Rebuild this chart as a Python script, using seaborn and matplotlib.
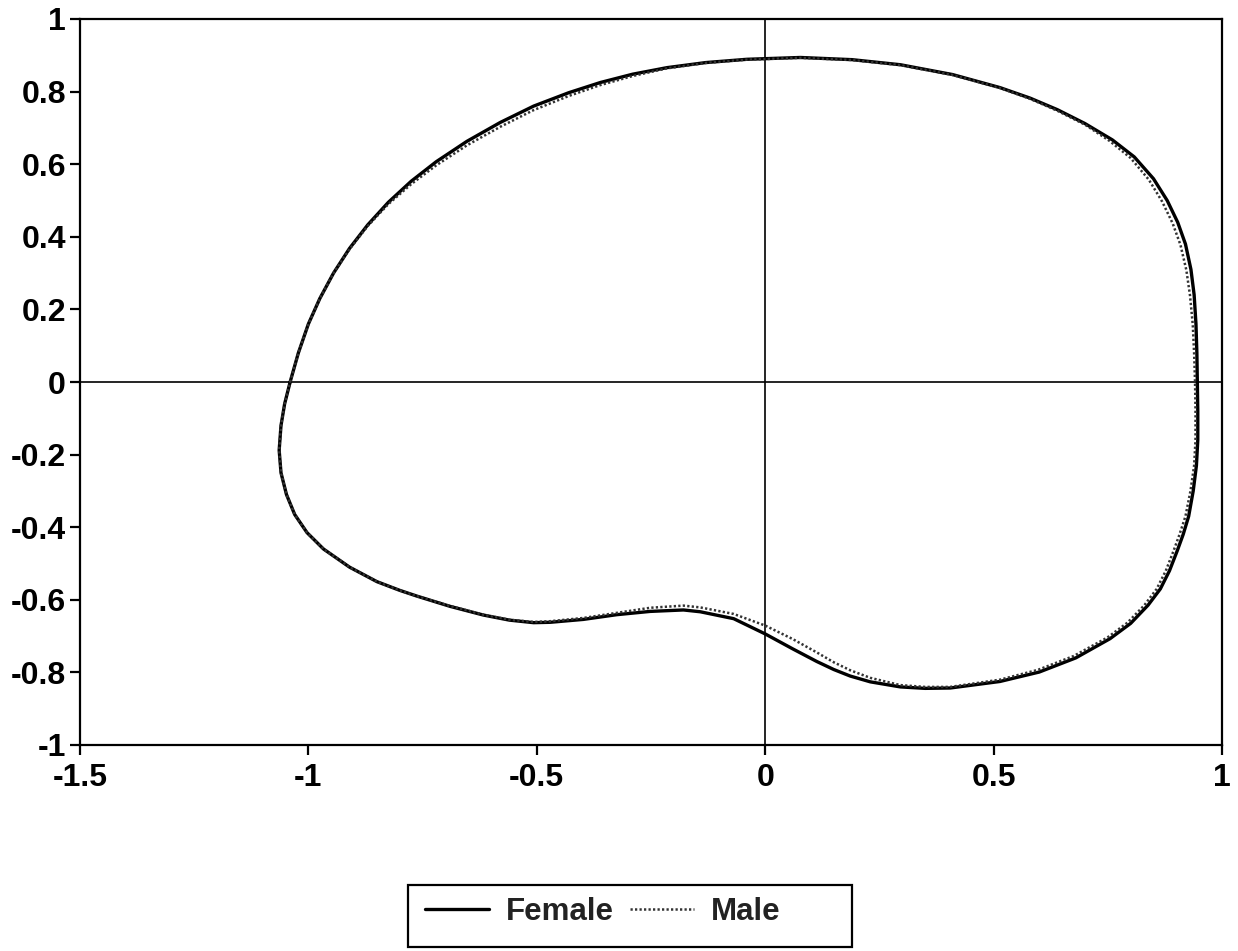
import numpy as np
import pandas as pd
import matplotlib
matplotlib.use("Agg")
import matplotlib.pyplot as plt
from matplotlib.patches import Rectangle
import seaborn as sns

# ---- data ----
female_x = [-1.040, -1.022, -1.000, -0.975, -0.945, -0.910, -0.870, -0.825, -0.775, -0.720,
            -0.653, -0.580, -0.507, -0.430, -0.361, -0.290, -0.215, -0.130, -0.040, 0.077,
            0.190, 0.296, 0.410, 0.514, 0.580, 0.640, 0.700, 0.760, 0.808, 0.850,
            0.880, 0.903, 0.920, 0.932, 0.939, 0.943, 0.945, 0.946, 0.947, 0.947,
            0.944, 0.937, 0.927, 0.915, 0.902, 0.885, 0.865, 0.838, 0.800, 0.755,
            0.680, 0.600, 0.514, 0.405, 0.350, 0.296, 0.230, 0.186, 0.150, 0.113,
            0.060, 0.000, -0.069, -0.142, -0.179, -0.252, -0.325, -0.398, -0.471, -0.507,
            -0.560, -0.617, -0.690, -0.762, -0.800, -0.850, -0.910, -0.967, -1.003, -1.030,
            -1.048, -1.060, -1.064, -1.060, -1.052, -1.040]
female_y = [0.000, 0.080, 0.160, 0.230, 0.300, 0.368, 0.433, 0.495, 0.553, 0.607,
            0.663, 0.715, 0.760, 0.797, 0.825, 0.848, 0.866, 0.880, 0.889, 0.894,
            0.888, 0.874, 0.847, 0.811, 0.782, 0.750, 0.712, 0.667, 0.620, 0.560,
            0.500, 0.440, 0.380, 0.310, 0.240, 0.160, 0.080, 0.000, -0.080, -0.160,
            -0.230, -0.300, -0.370, -0.420, -0.465, -0.520, -0.570, -0.615, -0.665, -0.707,
            -0.760, -0.799, -0.825, -0.843, -0.844, -0.840, -0.826, -0.810, -0.792, -0.770,
            -0.735, -0.694, -0.652, -0.633, -0.628, -0.632, -0.641, -0.654, -0.662, -0.663,
            -0.656, -0.642, -0.618, -0.590, -0.574, -0.550, -0.510, -0.460, -0.415, -0.365,
            -0.310, -0.250, -0.188, -0.120, -0.060, 0.000]

male_x = [-1.040, -1.022, -1.000, -0.975, -0.945, -0.910, -0.870, -0.825, -0.775, -0.720,
          -0.653, -0.580, -0.507, -0.430, -0.361, -0.290, -0.215, -0.130, -0.040, 0.077,
          0.190, 0.296, 0.410, 0.514, 0.580, 0.640, 0.700, 0.754, 0.800, 0.840,
          0.869, 0.892, 0.909, 0.922, 0.930, 0.936, 0.939, 0.941, 0.942, 0.942,
          0.939, 0.931, 0.920, 0.907, 0.894, 0.877, 0.857, 0.830, 0.793, 0.749,
          0.675, 0.597, 0.514, 0.405, 0.350, 0.296, 0.230, 0.186, 0.150, 0.113,
          0.060, 0.000, -0.069, -0.142, -0.179, -0.252, -0.325, -0.398, -0.471, -0.507,
          -0.560, -0.617, -0.690, -0.762, -0.800, -0.850, -0.910, -0.967, -1.003, -1.030,
          -1.048, -1.060, -1.064, -1.060, -1.052, -1.040]
male_y = [0.000, 0.080, 0.160, 0.230, 0.300, 0.366, 0.430, 0.490, 0.545, 0.597,
          0.652, 0.703, 0.749, 0.788, 0.818, 0.843, 0.864, 0.879, 0.888, 0.893,
          0.887, 0.873, 0.846, 0.810, 0.780, 0.747, 0.709, 0.664, 0.617, 0.557,
          0.497, 0.437, 0.378, 0.308, 0.238, 0.158, 0.078, 0.000, -0.080, -0.160,
          -0.230, -0.300, -0.370, -0.420, -0.465, -0.520, -0.570, -0.615, -0.663, -0.704,
          -0.755, -0.793, -0.820, -0.840, -0.840, -0.835, -0.815, -0.794, -0.772, -0.745,
          -0.708, -0.671, -0.639, -0.621, -0.616, -0.622, -0.636, -0.650, -0.659, -0.661,
          -0.655, -0.641, -0.617, -0.590, -0.574, -0.550, -0.510, -0.460, -0.415, -0.365,
          -0.310, -0.250, -0.188, -0.120, -0.060, 0.000]

series_names = ["Female", "Male"]
x_ticks = [-1.5, -1, -0.5, 0, 0.5, 1]
x_tick_labels = ["-1.5", "-1", "-0.5", "0", "0.5", "1"]
y_ticks = [-1, -0.8, -0.6, -0.4, -0.2, 0, 0.2, 0.4, 0.6, 0.8, 1]
y_tick_labels = ["-1", "-0.8", "-0.6", "-0.4", "-0.2", "0", "0.2", "0.4", "0.6", "0.8", "1"]

# ---- style ----
sns.set_style("ticks")
plt.rcParams["font.family"] = ["Liberation Sans", "DejaVu Sans"]
plt.rcParams["font.weight"] = "bold"
plt.rcParams["axes.unicode_minus"] = False

W, H = 1238, 951
fig = plt.figure(figsize=(W / 100, H / 100), dpi=100)
ax = fig.add_axes([80 / W, 1 - 745 / H, (1222 - 80) / W, (745 - 19) / H])

df_f = pd.DataFrame({"x": female_x, "y": female_y})
df_m = pd.DataFrame({"x": male_x, "y": male_y})

# axis cross lines
ax.axhline(0, color="black", lw=1.2, zorder=1)
ax.axvline(0, color="black", lw=1.2, zorder=1)

sns.lineplot(data=df_f, x="x", y="y", sort=False, estimator=None, ax=ax,
             color="black", lw=2.4, label=series_names[0], zorder=3,
             solid_joinstyle="round")
sns.lineplot(data=df_m, x="x", y="y", sort=False, estimator=None, ax=ax,
             color="#333333", lw=1.8, linestyle=(0, (0.9, 0.9)),
             label=series_names[1], zorder=4)

ax.set_xlim(-1.5, 1)
ax.set_ylim(-1, 1)
ax.set_xticks(x_ticks)
ax.set_xticklabels(x_tick_labels)
ax.set_yticks(y_ticks)
ax.set_yticklabels(y_tick_labels)
ax.set_xlabel("")
ax.set_ylabel("")

for s in ax.spines.values():
    s.set_linewidth(1.6)
    s.set_color("black")
ax.tick_params(axis="both", direction="out", length=7, width=1.6, labelsize=23,
               colors="black")
ax.tick_params(axis="y", pad=3)
ax.tick_params(axis="x", pad=6)
for lab in ax.get_xticklabels() + ax.get_yticklabels():
    lab.set_fontweight("bold")

handles, labels = ax.get_legend_handles_labels()
ax.get_legend().remove()
leg = fig.legend(handles, labels, loc="center left",
                 bbox_to_anchor=(403 / W, 1 - 912 / H), ncol=2,
                 frameon=False, prop={"weight": "bold", "size": 22.5},
                 handlelength=2.05, handletextpad=0.55, columnspacing=0.5,
                 borderpad=0.2)
for t in leg.get_texts():
    t.set_color("#222222")
# legend frame
fig.patches.append(Rectangle((408 / W, 1 - 947 / H), (852 - 408) / W, (947 - 885) / H,
                             transform=fig.transFigure, fill=False,
                             edgecolor="black", linewidth=1.6))

fig.savefig("out.png", dpi=100)
